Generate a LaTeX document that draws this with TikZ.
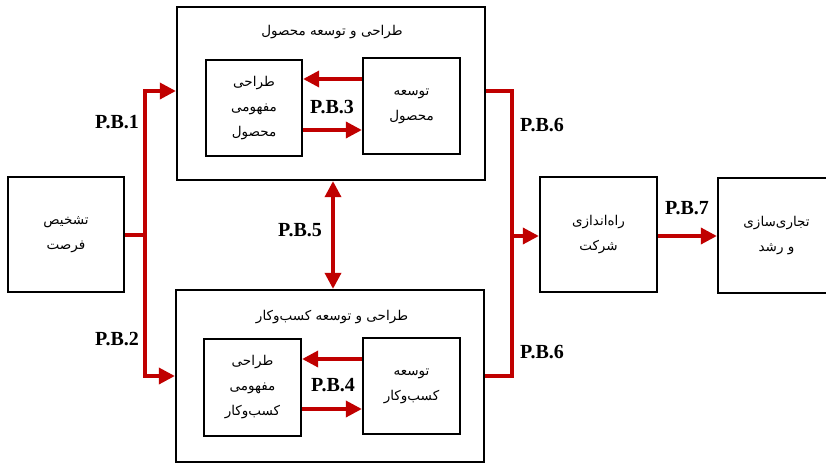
\documentclass[tikz,border=0pt]{standalone}
\usepackage{fontspec}
\setmainfont{Liberation Serif}
\newfontfamily\arabicfont[Script=Arabic]{DejaVu Sans}
\TeXXeTstate=1
\usetikzlibrary{arrows.meta}
\definecolor{flowred}{HTML}{C00000}
\newcommand{\pers}[1]{{\arabicfont\beginR #1\endR}}
\begin{document}
\begin{tikzpicture}[x=1pt,y=-1pt,
  box/.style={draw=black,line width=2.3pt,inner sep=0pt,minimum width=#1,align=center,
    font=\arabicfont\fontsize{13.5}{25}\selectfont},
  flow/.style={draw=flowred,line width=3.5pt},
  arr/.style={flow,-{Triangle[length=16pt,width=16pt]}},
  darr/.style={flow,{Triangle[length=16pt,width=16pt]}-{Triangle[length=16pt,width=16pt]}},
  pb/.style={font=\bfseries\fontsize{20}{20}\selectfont,inner sep=0pt},
  title/.style={font=\arabicfont\fontsize{13.5}{16}\selectfont,inner sep=0pt}]
\useasboundingbox (0,0) rectangle (826,463);
\clip (0,0) rectangle (826,463);

% outer stages
\node[box=116pt,minimum height=115pt] (opp) at (66,234.5)
  {\pers{تشخیص}\\\pers{فرصت}};
\node[box=308pt,minimum height=173pt] (prod) at (331,93.5) {};
\node[box=308pt,minimum height=172pt] (bus) at (330,376) {};
\node[box=117pt,minimum height=115pt] (launch) at (598.5,234.5)
  {\pers{راه‌اندازی}\\\pers{شرکت}};
\node[box=117pt,minimum height=115pt] (comm) at (776.5,235.5)
  {\pers{تجاری‌سازی}\\\pers{و رشد}};

% product development stage
\node[title] (prodT) at (332,32) {\pers{طراحی و توسعه محصول}};
\node[box=96pt,minimum height=96pt] (pconc) at (254,108)
  {\pers{طراحی}\\\pers{مفهومی}\\\pers{محصول}};
\node[box=97pt,minimum height=96pt] (pdev) at (411.5,106)
  {\pers{توسعه}\\\pers{محصول}};

% business development stage
\node[title] (busT) at (332,317) {\pers{طراحی و توسعه کسب‌وکار}};
\node[box=97pt,minimum height=97pt] (bconc) at (252.5,387.5)
  {\pers{طراحی}\\\pers{مفهومی}\\\pers{کسب‌وکار}};
\node[box=97pt,minimum height=96pt] (bdev) at (411.5,386)
  {\pers{توسعه}\\\pers{کسب‌وکار}};

% branching from opportunity
\coordinate (jL) at (145,235);
\draw[flow] (opp.east |- jL) -- (jL);
\draw[arr] (jL) |- ([yshift=2.5pt]prod.west);
\draw[arr] (jL) |- (bus.west);

% inner loops
\draw[arr] ([yshift=27pt]pdev.west) -- ([yshift=27pt]pdev.west -| pconc.east);
\draw[arr] ([yshift=-22pt]pconc.east) -- ([yshift=-22pt]pconc.east -| pdev.west);
\draw[arr] ([yshift=27pt]bdev.west) -- ([yshift=27pt]bdev.west -| bconc.east);
\draw[arr] ([yshift=-21.5pt]bconc.east) -- ([yshift=-21.5pt]bconc.east -| bdev.west);

% link between the two stages
\draw[darr] ([xshift=2pt]prod.south) -- ([xshift=2pt]prod.south |- bus.north);

% merging into launch
\coordinate (jR) at (512,236);
\draw[flow] ([yshift=2.5pt]prod.east) -| (jR) |- (bus.east);
\draw[arr] (jR) -- (jR -| launch.west);
\draw[arr] (launch.east |- jR) -- (comm.west |- jR);

% labels
\node[pb] (l1) at (117,122) {P.B.1};
\node[pb] (l2) at (117,339) {P.B.2};
\node[pb] (l3) at (332,107) {P.B.3};
\node[pb] (l4) at (333,385) {P.B.4};
\node[pb] (l5) at (300,230) {P.B.5};
\node[pb] (l6a) at (542,125) {P.B.6};
\node[pb] (l6b) at (542,352) {P.B.6};
\node[pb] (l7) at (687,208) {P.B.7};
\end{tikzpicture}
\end{document}
